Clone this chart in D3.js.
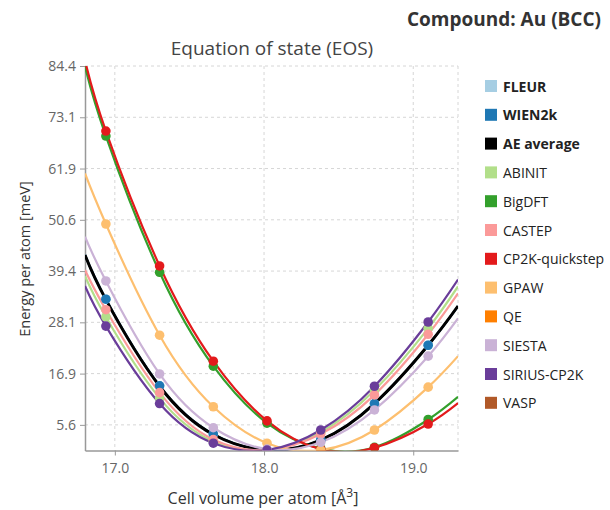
<!DOCTYPE html>
<html>
<head>
<meta charset="utf-8">
<script src="https://cdn.jsdelivr.net/npm/d3@7"></script>
<style>
  body { margin: 0; background: #fff; font-family: "Open Sans", "Noto Sans", sans-serif; }
</style>
</head>
<body>
<script>
// volumes (Å^3) where the curves were sampled; first/last are the plot edges
const volumes = [16.8, 16.94, 17.30, 17.66, 18.02, 18.38, 18.74, 19.10, 19.3];
const yTicks = [5.625, 16.875, 28.125, 39.375, 50.625, 61.875, 73.125, 84.375];
const xTicks = [17, 18, 19];

const codes = ["FLEUR", "WIEN2k", "AE average", "ABINIT", "BigDFT", "CASTEP",
  "CP2K-quickstep", "GPAW", "QE", "SIESTA", "SIRIUS-CP2K", "VASP"];
const boldCodes = ["FLEUR", "WIEN2k", "AE average"];
const colors = ["#a6cee3", "#1f78b4", "#000000", "#b2df8a", "#33a02c", "#fb9a99",
  "#e31a1c", "#fdbf6f", "#ff7f00", "#cab2d6", "#6a3d9a", "#b15928"];

// energies per atom (meV); null = no data
const energies = {
  "FLEUR":          [42.9, 33.2, 14.2, 3.6, 0.1, 2.3, 10.3, 23.1, 31.7],
  "WIEN2k":         [42.9, 33.2, 14.2, 3.6, 0.1, 2.3, 10.3, 23.1, 31.7],
  "AE average":     [42.9, 33.1, 14.1, 3.5, 0.1, 2.3, 10.3, 23.1, 31.7],
  "ABINIT":         [38.3, 29.3, 11.5, 2.0, 0.1, 4.0, 13.2, 26.8, 36.0],
  "BigDFT":         [84.3, 69.0, 39.1, 18.5, 6.0, 0.4, 0.7, 6.8, 11.8],
  "CASTEP":         [39.6, 30.9, 12.7, 2.4, 0.1, 3.6, 12.2, 25.5, 34.5],
  "CP2K-quickstep": [85.6, 70.1, 40.5, 19.6, 6.5, 0.3, 0.6, 5.8, 10.4],
  "GPAW":           [60.8, 49.7, 25.3, 9.6, 1.6, 0.1, 4.5, 13.9, 20.7],
  "QE":             null,
  "SIESTA":         [46.9, 37.2, 16.8, 5.0, 0.3, 1.8, 8.9, 20.7, 29.0],
  "SIRIUS-CP2K":    [36.1, 27.3, 10.3, 1.6, 0.1, 4.5, 14.1, 28.2, 37.5],
  "VASP":           null
};

const width = 610, height = 510;
const margin = { left: 85, right: 152, top: 66, bottom: 59.5 };

const x = d3.scaleLinear().domain([16.8, 19.3]).range([margin.left, width - margin.right]);
const y = d3.scaleLinear().domain([0, 84.375]).range([height - margin.bottom, margin.top]);

const svg = d3.select("body").append("svg")
  .attr("width", width)
  .attr("height", height)
  .style("font-family", "'Open Sans', 'Noto Sans', sans-serif");

svg.append("defs").append("clipPath").attr("id", "plot")
  .append("rect")
  .attr("x", margin.left).attr("y", margin.top)
  .attr("width", x.range()[1] - margin.left)
  .attr("height", y.range()[0] - margin.top);

// titles
svg.append("text")
  .attr("x", 601).attr("y", 26)
  .attr("text-anchor", "end")
  .style("font-size", "19px").style("font-weight", "bold").attr("fill", "#333")
  .text("Compound: Au (BCC)");

svg.append("text")
  .attr("x", 272).attr("y", 55)
  .attr("text-anchor", "middle")
  .style("font-size", "19px").attr("fill", "#444")
  .text("Equation of state (EOS)");

// grid
const grid = svg.append("g")
  .attr("stroke", "#d6d6d6").attr("stroke-dasharray", "3,3").attr("stroke-width", 1);
grid.selectAll("line.h").data(yTicks).join("line")
  .attr("x1", margin.left).attr("x2", x.range()[1])
  .attr("y1", d => y(d)).attr("y2", d => y(d));
grid.selectAll("line.v").data(xTicks.concat([19.3])).join("line")
  .attr("y1", margin.top).attr("y2", y.range()[0])
  .attr("x1", d => x(d)).attr("x2", d => x(d));

// axes
const yAxis = svg.append("g")
  .attr("transform", `translate(${margin.left},0)`)
  .call(d3.axisLeft(y).tickValues(yTicks).tickFormat(d3.format(".1f")).tickSize(5).tickPadding(4).tickSizeOuter(0));
const xAxis = svg.append("g")
  .attr("transform", `translate(0,${y.range()[0]})`)
  .call(d3.axisBottom(x).tickValues(xTicks).tickFormat(d3.format(".1f")).tickSize(5).tickSizeOuter(0));
[yAxis, xAxis].forEach(a => {
  a.select(".domain").attr("stroke", "#999").attr("stroke-width", 1.5);
  a.selectAll(".tick line").attr("stroke", "#999");
  a.selectAll(".tick text").attr("fill", "#666")
    .style("font-size", "14px").style("font-family", "'Open Sans', sans-serif");
});
xAxis.selectAll(".tick text").attr("dy", "1.05em");

svg.append("text")
  .attr("transform", `translate(30,259) rotate(-90)`)
  .attr("text-anchor", "middle")
  .style("font-size", "14.5px").attr("fill", "#333")
  .text("Energy per atom [meV]");

const xl = svg.append("text")
  .attr("x", 263).attr("y", 504)
  .attr("text-anchor", "middle")
  .style("font-size", "16px").attr("fill", "#333");
xl.append("tspan").text("Cell volume per atom [Å");
xl.append("tspan").attr("dy", "-7").style("font-size", "12px").text("3");
xl.append("tspan").attr("dy", "7").text("]");

// curves and points
const series = codes.map((c, i) => ({ name: c, color: colors[i], values: energies[c] }))
  .filter(s => s.values);

const line = d3.line()
  .x((d, i) => x(volumes[i]))
  .y(d => y(d))
  .curve(d3.curveNatural);

const plot = svg.append("g").attr("clip-path", "url(#plot)");

plot.selectAll("path.curve").data(series).join("path")
  .attr("class", "curve")
  .attr("fill", "none")
  .attr("stroke", d => d.color)
  .attr("stroke-width", d => d.name === "AE average" ? 3 : 2.2)
  .attr("d", d => line(d.values));

series.filter(s => s.name !== "AE average").forEach(s => {
  plot.append("g").selectAll("circle")
    .data(s.values.slice(1, -1))
    .join("circle")
    .attr("cx", (d, i) => x(volumes[i + 1]))
    .attr("cy", d => y(d))
    .attr("r", 4.8)
    .attr("fill", s.color);
});

// legend
const legend = svg.append("g").attr("transform", "translate(485,80)");
const items = legend.selectAll("g").data(codes).join("g")
  .attr("transform", (d, i) => `translate(0,${i * 28.8})`);
items.append("rect")
  .attr("width", 12).attr("height", 12)
  .attr("fill", (d, i) => colors[i]);
items.append("text")
  .attr("x", 18).attr("y", 11.5)
  .style("font-size", "14px")
  .style("font-weight", d => boldCodes.includes(d) ? "bold" : "normal")
  .attr("fill", "#222")
  .text(d => d);
</script>
</body>
</html>
